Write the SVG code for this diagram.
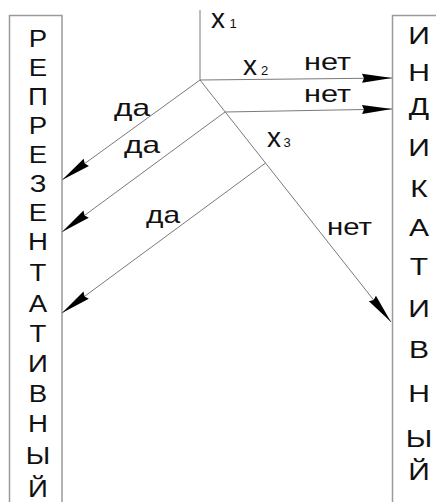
<svg xmlns="http://www.w3.org/2000/svg" width="436" height="502" viewBox="0 0 436 502">
<style>
.box{fill:none;stroke:#9a9a9a;stroke-width:1.5}
.ln{fill:none;stroke:#7a7a7a;stroke-width:1}
.arr{marker-end:url(#ah)}
.t{font-family:"Liberation Sans",Arial,sans-serif;fill:#111}
.big{font-size:24px}
.bl{font-size:24px;text-anchor:middle}
.xv{font-size:28px}
.sub{font-size:13px}
</style>
<defs>
<marker id="ah" markerUnits="userSpaceOnUse" markerWidth="32" markerHeight="12" refX="30" refY="5" orient="auto" overflow="visible">
<path d="M0,0.5 L30,5 L0,9.5 L2,5 Z" fill="#000"/>
</marker>
</defs>
<rect width="436" height="502" fill="#fff"/>
<g id="left-box">
<rect class="box" x="9.5" y="15.5" width="52.5" height="500"/>
<g class="t bl" transform="translate(38 0) scale(1.15 1)">
<text x="0" y="47">Р</text>
<text x="0" y="76">Е</text>
<text x="0" y="105">П</text>
<text x="0" y="134">Р</text>
<text x="0" y="163">Е</text>
<text x="0" y="192">З</text>
<text x="0" y="221">Е</text>
<text x="0" y="250">Н</text>
<text x="0" y="281">Т</text>
<text x="0" y="312">А</text>
<text x="0" y="342">Т</text>
<text x="0" y="372">И</text>
<text x="0" y="402">В</text>
<text x="0" y="432">Н</text>
<text x="0" y="464">Ы</text>
<text x="0" y="497">Й</text>
</g>
</g>
<g id="right-box">
<rect class="box" x="392.5" y="15.5" width="60" height="500"/>
<g class="t bl" transform="translate(419 0) scale(1.25 1)">
<text x="0" y="44">И</text>
<text x="0" y="81">Н</text>
<text x="0" y="115">Д</text>
<text x="0" y="156">И</text>
<text x="0" y="197">К</text>
<text x="0" y="236">А</text>
<text x="0" y="275">Т</text>
<text x="0" y="317">И</text>
<text x="0" y="358">В</text>
<text x="0" y="402">Н</text>
<text x="0" y="447">Ы</text>
<text x="0" y="480">Й</text>
</g>
</g>
<g id="connectors">
<line class="ln" x1="200" y1="10" x2="200" y2="80"/>
<line class="ln arr" x1="200" y1="80" x2="392" y2="78"/>
<line class="ln arr" x1="225" y1="112" x2="392" y2="109"/>
<line class="ln arr" x1="200" y1="80" x2="391" y2="322"/>
<line class="ln arr" x1="200" y1="80" x2="62" y2="180"/>
<line class="ln arr" x1="225" y1="112" x2="62" y2="232"/>
<line class="ln arr" x1="265.5" y1="163" x2="62" y2="313"/>
</g>
<g id="labels" class="t">
<text class="xv" x="211" y="28">x<tspan class="sub" x="229.5">1</tspan></text>
<text class="xv" x="243" y="75">x<tspan class="sub" x="261">2</tspan></text>
<text class="xv" x="267" y="147">x<tspan class="sub" x="283.5">3</tspan></text>
<text class="big" x="304" y="70" textLength="47" lengthAdjust="spacingAndGlyphs">нет</text>
<text class="big" x="304" y="102" textLength="47" lengthAdjust="spacingAndGlyphs">нет</text>
<text class="big" x="327" y="235" textLength="45" lengthAdjust="spacingAndGlyphs">нет</text>
<text class="big" x="114" y="116" textLength="36" lengthAdjust="spacingAndGlyphs">да</text>
<text class="big" x="124" y="152.5" textLength="36" lengthAdjust="spacingAndGlyphs">да</text>
<text class="big" x="146" y="222.5" textLength="34" lengthAdjust="spacingAndGlyphs">да</text>
</g>
</svg>
